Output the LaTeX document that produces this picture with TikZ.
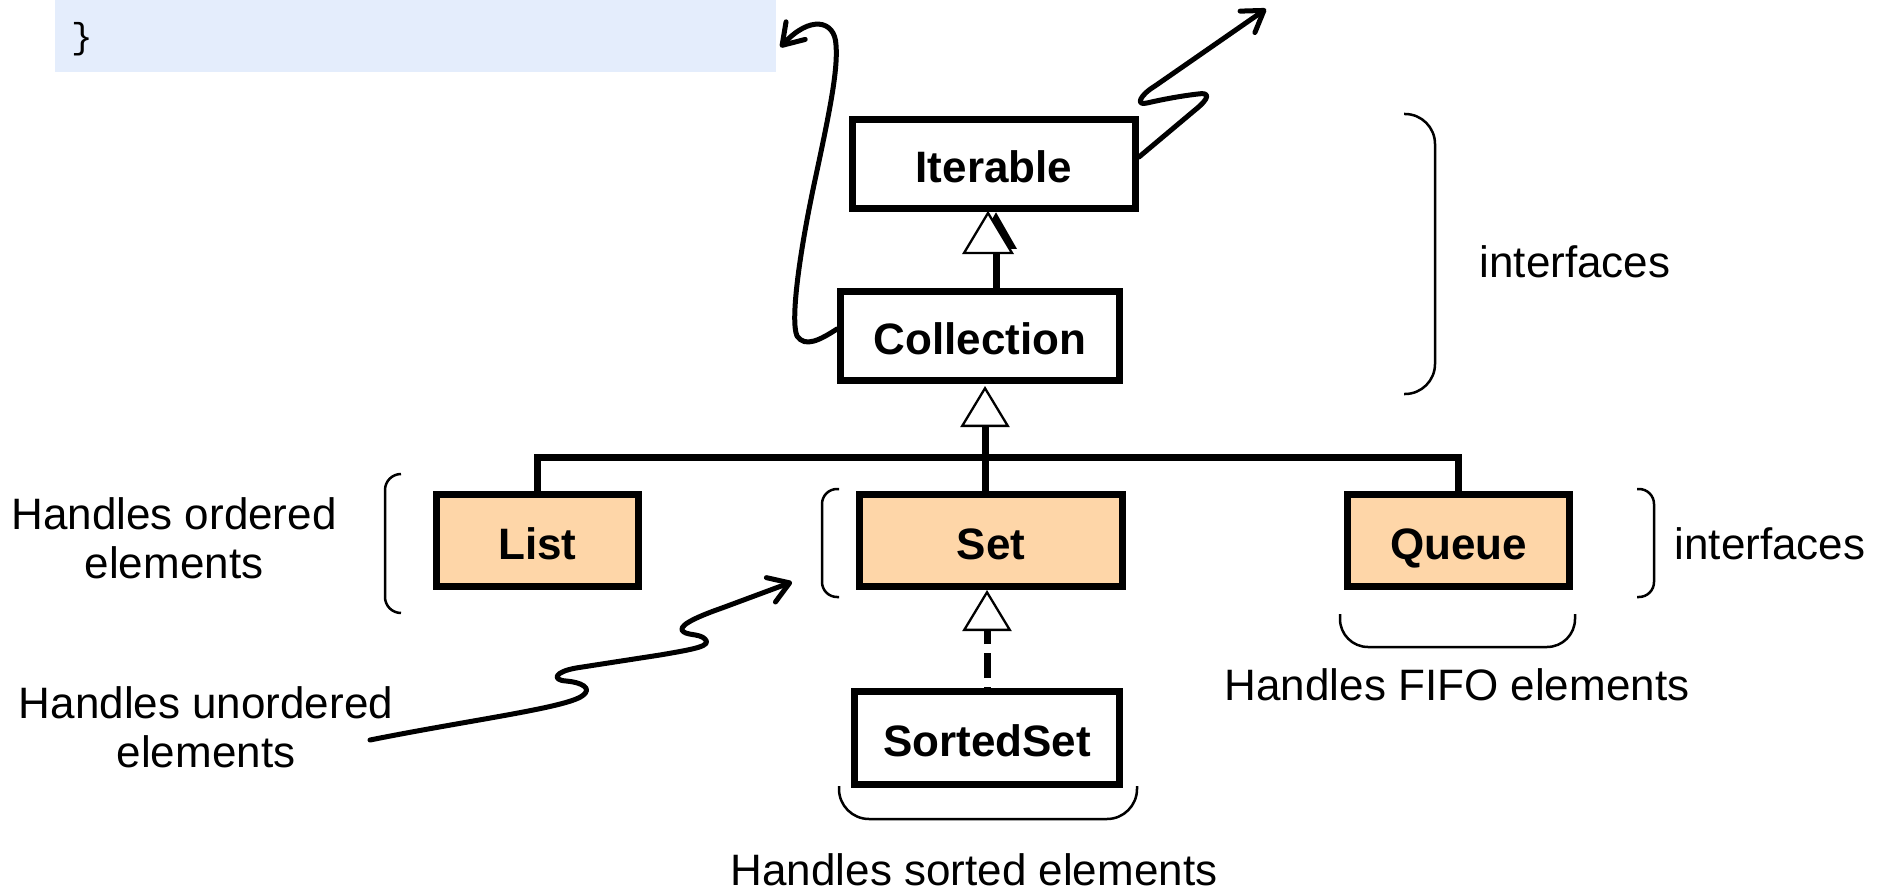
\documentclass[tikz,border=0pt]{standalone}
\usepackage{fontspec}
\setmainfont{Liberation Sans}
\newfontfamily\codefont{Liberation Mono}
\usetikzlibrary{arrows.meta}
\definecolor{ifacefill}{RGB}{254,214,168}
\definecolor{codebg}{RGB}{228,237,252}

\begin{document}
\begin{tikzpicture}[x=1pt,y=-1pt,
  box/.style={draw, line width=7pt, inner sep=0pt, text height=37pt, text depth=0pt,
    font=\fontsize{44}{50}\selectfont\bfseries},
  core/.style={box, fill=ifacefill},
  conn/.style={line width=7pt},
  inh/.style={conn, -{Triangle[length=41pt,width=49pt,line width=2.3pt,fill=white]}},
  note/.style={font=\fontsize{44}{49}\selectfont, align=center, inner sep=0pt},
  brk/.style={line width=2.5pt},
  squig/.style={line width=5pt, line cap=round, line join=round,
    -{Straight Barb[length=20pt,width=26pt,round]}},
]
\useasboundingbox (0,0) rectangle (1888,893);

% code snippet background
\node[fill=codebg, anchor=north west, minimum width=721pt, minimum height=72pt, inner sep=0pt] (code) at (55,0) {};
\node[font=\codefont\fontsize{36}{40}\selectfont, inner sep=0pt] (closing) at (82,39) {\}};

% interface boxes
\node[box, minimum width=283pt, minimum height=89pt] (Iterable) at (994,164) {Iterable};
\node[box, minimum width=279pt, minimum height=89pt] (Collection) at (980,336) {Collection};
\node[core, minimum width=202pt, minimum height=92pt] (List) at (537.5,540.5) {List};
\node[core, minimum width=263pt, minimum height=92pt] (Set) at (991,540.5) {Set};
\node[core, minimum width=222pt, minimum height=92pt] (Queue) at (1458.5,540.5) {Queue};
\node[box, minimum width=265pt, minimum height=93pt] (SortedSet) at (987,738) {SortedSet};

% Collection extends Iterable
\draw[conn, -{Triangle[length=37pt,width=40pt]}] ([xshift=16pt]Collection.north) -- ([xshift=2pt]Iterable.south);
\draw[line width=2.3pt, fill=white, line join=miter] (988,213) -- (1012,253) -- (964,253) -- cycle;

% List, Set, Queue extend Collection
\coordinate (j) at (985,457);
\draw[conn] (List.north) |- (j) -| (Queue.north);
\draw[conn] (Set.north -| j) -- (j);
\draw[inh] (j) -- ([yshift=-2pt]j |- Collection.south);

% SortedSet extends Set
\draw[inh, dash pattern=on 25pt off 9pt, dash phase=24pt] (SortedSet.north) -- (SortedSet.north |- Set.south);

% grouping brackets
\draw[brk, rounded corners=30pt] (1404,114) -- (1435,114) -- (1435,394) -- (1404,394);
\draw[brk, rounded corners=15pt] (1637,489) -- (1654,489) -- (1654,597) -- (1637,597);
\draw[brk, rounded corners=15pt] (839,489) -- (822,489) -- (822,597) -- (839,597);
\draw[brk, rounded corners=16pt] (401,474) -- (385,474) -- (385,613) -- (401,613);
\draw[brk, rounded corners=28pt] (1340,614) -- (1340,647) -- (1575,647) -- (1575,614);
\draw[brk, rounded corners=30pt] (839,786) -- (839,819) -- (1137,819) -- (1137,786);

% notes
\node[note] (tIfaceTop) at (1575,262) {interfaces};
\node[note] (tIfaceMid) at (1770,544) {interfaces};
\node[note] (tFifo) at (1457,685) {Handles FIFO elements};
\node[note] (tSorted) at (974,870) {Handles sorted elements};
\node[note] (tOrdered) at (174,538) {Handles ordered\\elements};
\node[note] (tUnordered) at (206,727) {Handles unordered\\elements};

% squiggly pointers
\coordinate (uStart) at (370,740);
\coordinate (uEnd) at (792,582);
\draw[squig] (uStart) .. controls (470,720) and (565,708) .. (582,696)
  .. controls (594,688) and (580,682) .. (566,681)
  .. controls (552,680) and (554,672) .. (576,668)
  -- (660,655)
  .. controls (695,649) and (712,646) .. (705,639)
  .. controls (699,633) and (685,636) .. (682,630)
  .. controls (680,624) and (702,615) .. (722,608)
  -- (uEnd);

\coordinate (codeEnd) at ([shift={(4pt,-11pt)}]code.east);
\draw[squig] ([yshift=7pt]Collection.west) .. controls (820,340) and (805,348) .. (797,336)
  .. controls (790,320) and (800,250) .. (815,180)
  .. controls (830,110) and (838,70) .. (836,45)
  .. controls (835,20) and (810,15) .. (codeEnd);

\coordinate (upEnd) at (1266,9);
\draw[squig] ([yshift=7pt]Iterable.east) -- (1195,110)
  .. controls (1210,98) and (1210,92) .. (1198,94)
  .. controls (1180,96) and (1160,100) .. (1147,103)
  .. controls (1135,106) and (1140,95) .. (1155,86)
  -- (upEnd);
\end{tikzpicture}
\end{document}
